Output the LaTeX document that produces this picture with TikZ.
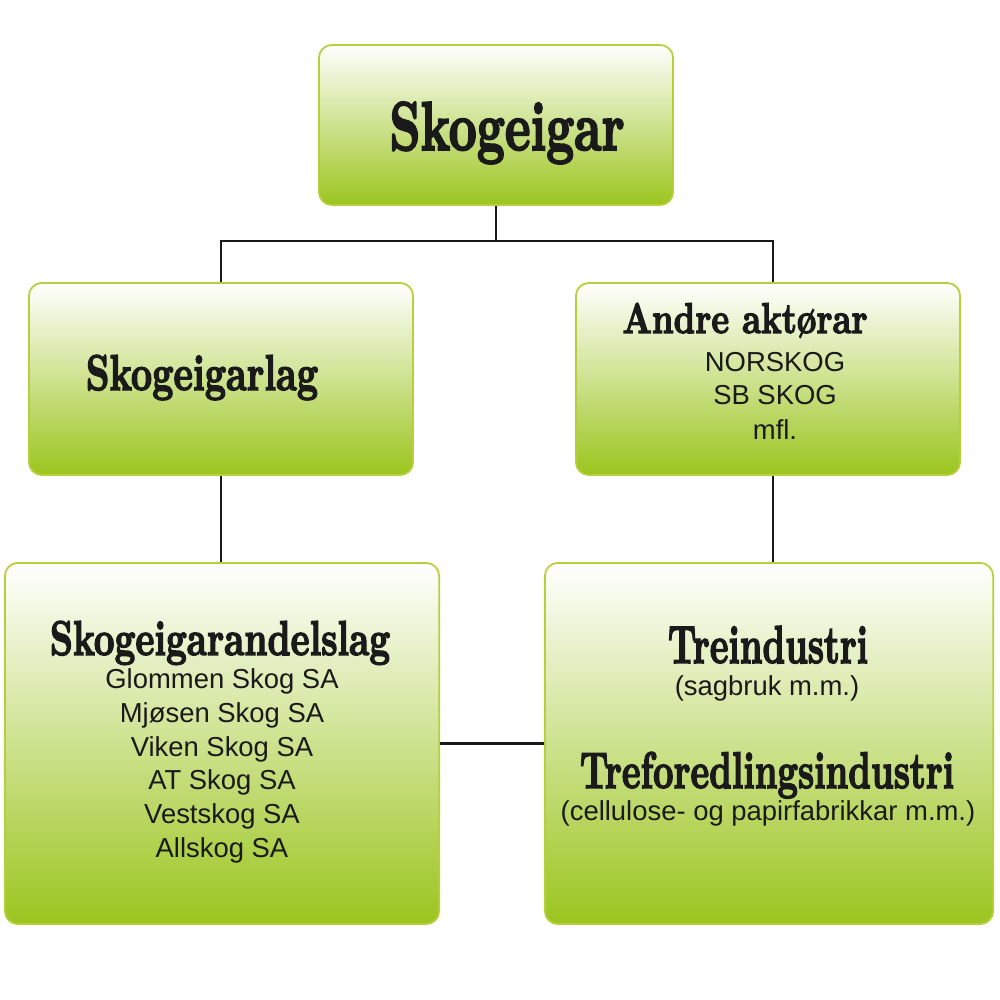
\documentclass[tikz,border=0pt]{standalone}
\usepackage{fontspec}
\usepackage{graphicx}
\newfontfamily\bodyfont{Liberation Sans}
\newfontfamily\heavyfont[FakeBold=3]{Latin Modern Roman}
\definecolor{leaf}{HTML}{9BC51E}
\definecolor{rim}{HTML}{B8CE3C}
\definecolor{ink}{HTML}{1A1A1A}
\newcommand\ttl[3]{\resizebox{#1}{#2}{\heavyfont\bfseries #3}}
\tikzset{
  box/.style={rectangle, rounded corners=0.13cm, draw=rim, line width=0.5pt,
    top color=white, bottom color=leaf, inner sep=0pt},
  ttlnode/.style={inner sep=0pt, anchor=base, text=ink},
  sub/.style={inner sep=0pt, anchor=base, text=ink,
    font=\bodyfont\fontsize{7.8pt}{9.4pt}\selectfont},
  link/.style={draw=black!90, line width=0.65pt}
}
\begin{document}
\begin{tikzpicture}[x=0.01cm,y=-0.01cm]
\useasboundingbox (0,0) rectangle (1000,1000);
\fill[white] (0,0) rectangle (1000,1000);
% boxes
\node[box, minimum width=3.54cm, minimum height=1.60cm] (top) at (496,125) {};
\node[box, minimum width=3.84cm, minimum height=1.92cm] (lm) at (221,379) {};
\node[box, minimum width=3.84cm, minimum height=1.92cm] (rm) at (768,379) {};
\node[box, minimum width=4.34cm, minimum height=3.61cm] (bl) at (222,743.5) {};
\node[box, minimum width=4.48cm, minimum height=3.61cm] (br) at (769,743.5) {};
% connectors
\coordinate (j) at (496,241);
\draw[link] (top.south) -- (j);
\draw[link] (lm.north) |- (j) -| ([xshift=0.05cm]rm.north);
\draw[link] (lm.south) -- (bl.north -| lm.south);
\draw[link] ([xshift=0.05cm]rm.south) -- ([xshift=0.05cm]rm.south |- br.north);
\draw[link] (bl.east) -- (br.west);
% titles
\node[ttlnode] (t1) at (507,150) {\ttl{2.35cm}{0.48cm}{Skogeigar}};
\node[ttlnode] (t2) at (202,390) {\ttl{2.32cm}{0.35cm}{Skogeigarlag}};
\node[ttlnode] (t3) at (745,333) {\ttl{2.45cm}{0.30cm}{Andre aktørar}};
\node[ttlnode] (t4) at (220,655) {\ttl{3.40cm}{0.34cm}{Skogeigarandelslag}};
\node[ttlnode] (t5) at (768,663) {\ttl{2.00cm}{0.37cm}{Treindustri}};
\node[ttlnode] (t6) at (767,788) {\ttl{3.74cm}{0.36cm}{Treforedlingsindustri}};
% sub texts
\node[sub] (a1) at (775,371) {NORSKOG};
\node[sub] (a2) at (775,404) {SB SKOG};
\node[sub] (a3) at (775,439) {mfl.};
\node[sub] (g1) at (222,688) {Glommen Skog SA};
\node[sub] (g2) at (222,722) {Mjøsen Skog SA};
\node[sub] (g3) at (222,756) {Viken Skog SA};
\node[sub] (g4) at (222,789) {AT Skog SA};
\node[sub] (g5) at (222,823) {Vestskog SA};
\node[sub] (g6) at (222,857) {Allskog SA};
\node[sub] (s1) at (767,695) {(sagbruk m.m.)};
\node[sub] (s2) at (768,820) {(cellulose- og papirfabrikkar m.m.)};
\end{tikzpicture}
\end{document}
